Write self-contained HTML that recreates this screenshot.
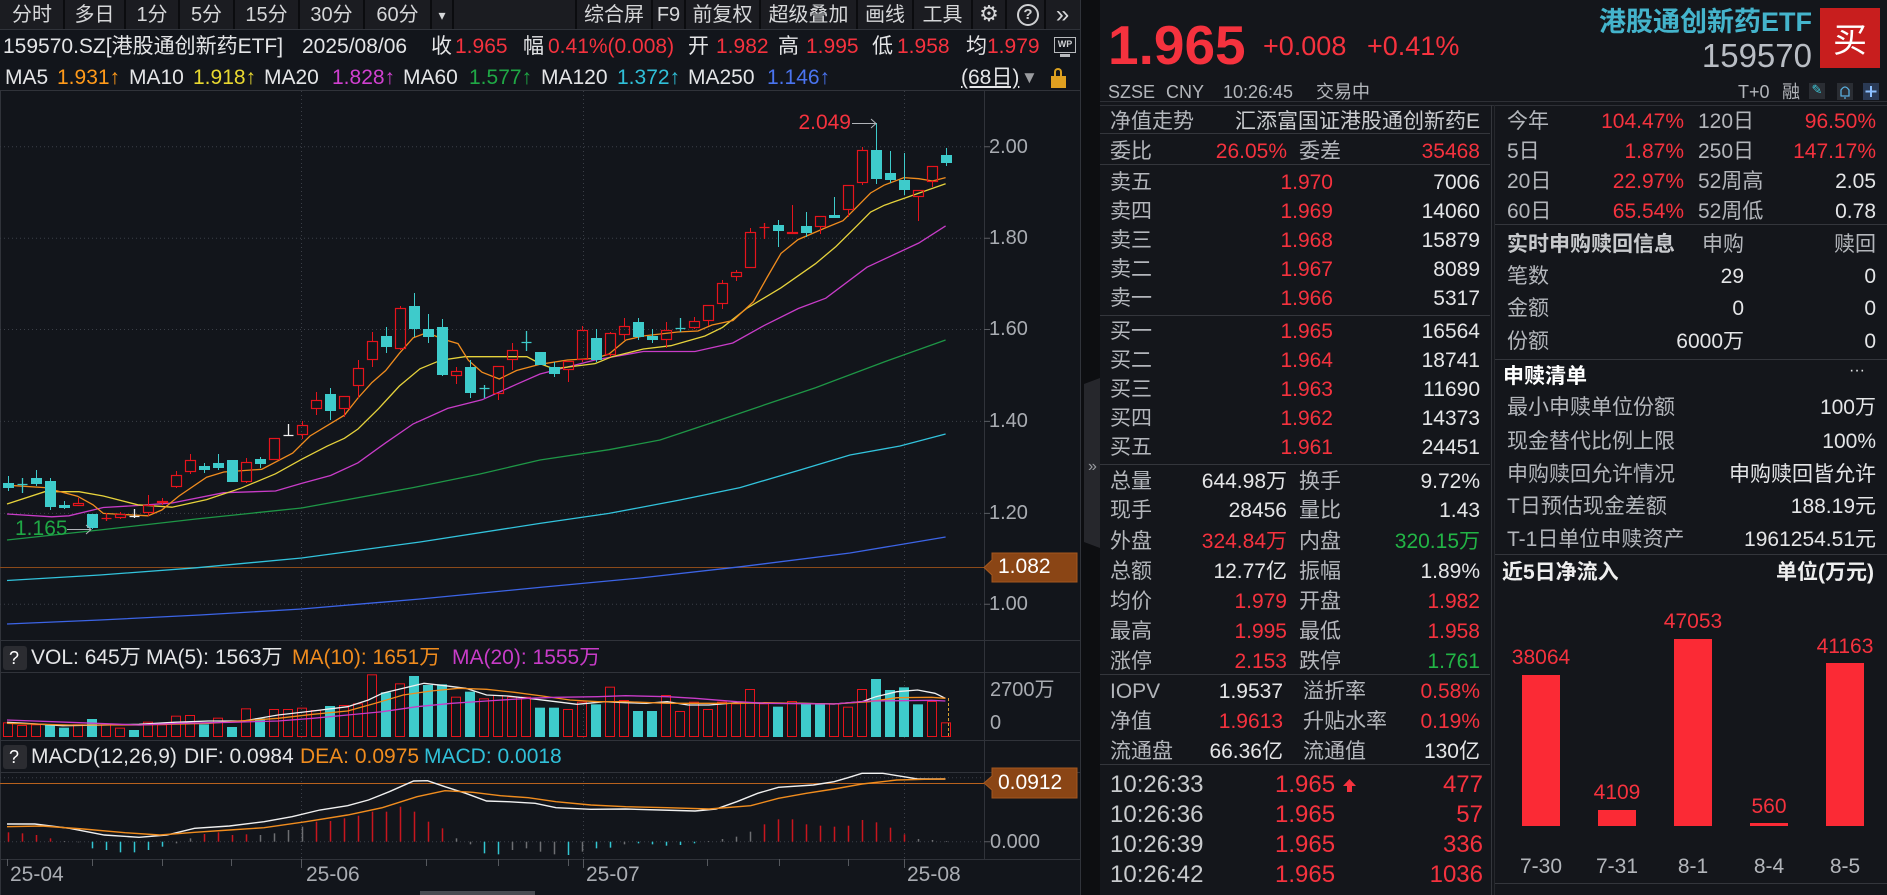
<!DOCTYPE html>
<html><head><meta charset="utf-8">
<style>
*{margin:0;padding:0;box-sizing:border-box}
body{width:1887px;height:895px;overflow:hidden;background:#14161b;font-family:"Liberation Sans","Noto Sans CJK SC",sans-serif;color:#e2e3e5;position:relative}
.t{position:absolute;white-space:nowrap;font-size:21px;line-height:24px}
.tab{position:absolute;top:2px;height:26px;line-height:26px;text-align:center;font-size:20px;color:#d6d7d9;white-space:nowrap}
.g{color:#b3b6bb}.w{color:#e4e5e7}.rd{color:#f5323e}.gn{color:#22b546}
.hl{position:absolute;height:1px;background:#34363c}
.ax{color:#a9acb2;font-size:20px}
.tk{font-size:24px;line-height:28px}
.bar{position:absolute;background:#fb2a35;width:38px}
</style></head><body>
<svg id="ch" width="1100" height="895" style="position:absolute;left:0;top:0">
<rect x="0" y="0" width="1100" height="895" fill="#12151b"/>
<rect x="0" y="0" width="1080" height="29" fill="#1b1c21"/>
<path d="M64 0V29M125 0V29M179 0V29M234 0V29M299 0V29M364 0V29M431 0V29M453 0V29M576 0V29M652 0V29M685 0V29M760 0V29M857 0V29M913 0V29M972 0V29M1006 0V29M1045 0V29" stroke="#0b0c0f" stroke-width="2"/>
<rect x="1080" y="0" width="20" height="895" fill="#0d0e11"/>
<path d="M1084 384L1100 378V548L1084 542Z" fill="#26272c"/>
<path d="M0 29.5H1080M0 90.5H1080M0 640.5H1080M0 672.5H1080M0 740.5H1080M0 772.5H1080M0 859.5H1080" stroke="#30333a"/>
<path d="M984.5 90V859M1080.5 0V895M0.5 90V895" stroke="#30333a"/>
<path d="M0 146.7H984M0 238.3H984M0 329.5H984M0 421.4H984M0 513.4H984M0 604.3H984M0 777.7H984M0 841.7H984" stroke="#3b3f47" stroke-dasharray="1 3"/>
<path d="M301.5 91V640M583.5 91V640M904.5 91V640M301.5 673V740M583.5 673V740M904.5 673V740M301.5 773V859M583.5 773V859M904.5 773V859" stroke="#3b3f47" stroke-dasharray="1 3"/>
<path d="M984 146.7H990M984 238.3H990M984 329.5H990M984 421.4H990M984 513.4H990M984 604.3H990M984 841.7H990" stroke="#5a5d63"/>
<path d="M7.5 859V866M92.5 859V866M162.5 859V866M231.5 859V866M301.5 859V868M426.5 859V866M498.5 859V866M568.5 859V866M583.5 859V868M707.5 859V866M779.5 859V866M848.5 859V866M904.5 859V868" stroke="#55585e"/>
<rect x="420" y="891" width="115" height="4" fill="#4a4c52"/>
<line x1="0" y1="567.5" x2="984" y2="567.5" stroke="#8b4a1a"/>
<line x1="0" y1="783.5" x2="984" y2="783.5" stroke="#b8621e"/>
<polyline fill="none" stroke="#3c64e6" stroke-width="1.3" points="7,624 100,620 200,615 301.6,609 420,599 540,587.4 640,578 740,566.8 850,553 904,544 945.6,537"/>
<polyline fill="none" stroke="#32c3dc" stroke-width="1.3" points="7,580.5 100,575 196,567.8 301.6,558 420,542 540,523.4 609,513.4 680,500 740,487.6 800,470 850,455 900,446 945.6,434"/>
<polyline fill="none" stroke="#1e9646" stroke-width="1.3" points="7,540 103,529.6 196,519 301.6,508 413,487.6 480,474 540,460 609,449.7 660,440 719,420.4 770,403 815.5,387.7 884,362 945.6,340"/>
<polyline fill="none" stroke="#c83cc8" stroke-width="1.3" points="7,514 51.7,516.8 68.9,515.8 103.3,507.5 137.7,505.5 172,503 223.8,492.7 275.5,491 301.6,483.4 330.6,475.5 358,462.8 385.7,442.8 413.2,423.9 447.7,408.4 482,399.8 516.5,384.3 540,374 595,360 643.3,351.5 695,351.5 732.8,343 763.8,325.7 798.3,308.5 825.8,298.2 867,267.2 918.8,243 945.6,225.9"/>
<polyline fill="none" stroke="#e6d23c" stroke-width="1.3" points="7,504 44.8,491.7 79,491.7 103.3,496 137.7,504.8 172,507.2 206.6,499.6 241,488.2 275.5,473.8 301.6,459.3 327,446.2 344.4,438.3 358,429 378.8,408.4 399.4,386 420,368.8 440.8,360.2 464.9,356.7 526.9,356.7 540,363.6 553.8,368.8 595,363.6 612,356.7 643.3,349 670.9,345.7 705,336 722.5,327.4 746.6,308.5 781,287.8 815.5,263.7 836,246.5 856.8,225.9 870.6,212 884.4,205.2 904.3,198.3 945.6,183.8"/>
<polyline fill="none" stroke="#f08c1e" stroke-width="1.3" points="7,485.2 44.8,487.6 77.5,496.2 93,504.8 103.3,513.4 148,515.8 161.8,510 179,496 206.6,477.2 223.8,472 261.7,469.3 292.7,453.1 310,436 344.4,415.2 358,398 372,382.5 385.7,370.5 399.4,353.3 413.2,337.8 427,332.6 444,339.5 458,343.6 468.3,360.2 482,372.2 499.3,379 516.5,370.5 540,364.3 567.5,360 595,358.4 609,354 626,340 643,336 677.7,332 698,331 712,325 733,320.5 753.5,301.6 767,277.5 781,253.4 798,239.6 826,227.6 843,220.7 853.4,210.4 870.6,193 884,185.2 904,177.6 918.8,178.7 932.6,181 945.6,177.6"/>
<g id="dyn"></g>
<polyline fill="none" stroke="#f0f0f0" stroke-width="1.3" points="7,722.3 41.7,724.3 62.6,725.7 104.3,725 139,724.3 173.8,722.3 208.5,721 243.3,721 278,715 312.8,711 347.6,706.7 368.4,700 382.3,693.3 403.2,688.3 424,683.3 444.9,685.7 465.7,688.3 486.6,695 507.4,696 528.3,698.3 556,701.7 577,704.3 604.8,701.7 625.6,702.7 646.5,703.3 667.3,701.7 688.2,705 709,705 736.8,702.7 764.6,703.3 799.4,703.3 834.1,704 862,701.7 875.9,696.7 896.7,691.7 917.6,690 935,693.3 945.4,698.3"/>
<polyline fill="none" stroke="#f08c1e" stroke-width="1.3" points="7,723.3 69.5,725 139,725 208.5,723.3 278,718.3 312.8,714.3 347.6,711 375.4,703.3 403.2,695 431,691 458.8,688.3 486.6,689.3 514.4,692.3 542.2,696 570,700 597.8,701.7 625.6,701.7 667.3,703.3 736.8,703.3 764.6,702.7 834.1,704 868.9,701.7 896.7,697.7 931.5,697.3 945.4,698.3"/>
<polyline fill="none" stroke="#c83cc8" stroke-width="1.3" points="7,720 69.5,722.3 139,725 180.7,723.3 229.4,722.3 278,721 312.8,718.3 347.6,715 382.3,711.7 417,706.7 451.8,703.3 486.6,701 528.3,698.3 556,697.3 597.8,696.7 625.6,695.7 667.3,696.7 695,698.3 736.8,701.7 764.6,703.3 834.1,704 868.9,701 903.6,700.7 931.5,700.3 945.4,701"/>
<line x1="948.5" y1="698" x2="948.5" y2="737" stroke="#d8a030" stroke-dasharray="3 2"/>
<polyline fill="none" stroke="#f0f0f0" stroke-width="1.4" points="7,824 34.8,824 69.5,828.3 104.3,835 139,837.3 166.8,835 194.6,828.3 229.4,826 264.1,821.7 292,816.7 319.8,810 347.6,805.7 368.4,800 389.3,791.7 413.6,781 427.5,780.7 444.9,786.7 465.7,793.3 486.6,801 507.4,801.7 535.2,803.3 556,807.7 590.9,809.3 625.6,809 660.4,810 695.1,811 716,809 736.8,801.7 757.7,793.3 778.5,787.3 813.3,785 834.1,781.7 848,777.7 862,773.3 882.8,773.3 903.6,776.7 917.6,779 945.4,779"/>
<polyline fill="none" stroke="#f08c1e" stroke-width="1.4" points="7,826.7 41.7,826 83.4,829 125.1,832.7 159.9,835 194.6,832.3 229.4,830 264.1,827.7 305.9,821.7 347.6,815 382.3,807.7 417,796.7 444.9,790.7 472.7,792.3 500.5,795.7 528.3,797.7 556,801.7 590.9,805 625.6,806.7 667.3,807.7 709,809 750.7,805.7 778.5,798.3 806.3,793.3 834.1,789 862,784 896.7,780 924.5,779.3 945.4,779"/>
<path d="M852 123.5H876M871 119L876 123.5L871 128" stroke="#b0b3b8" fill="none"/>
<path d="M67 529.5H91M86 525L91 529.5L86 534" stroke="#b0b3b8" fill="none"/>
<path d="M984 567.5L992 560V553H1077V582H992V575Z" fill="#8a4515" stroke="#a4581f"/>
<path d="M984 783L992 776V768H1077V798H992V790Z" fill="#8a4515" stroke="#a4581f"/>
<rect x="3" y="646" width="24" height="24" rx="3" fill="#2b2c31"/>
<rect x="3" y="745" width="24" height="24" rx="3" fill="#2b2c31"/>
</svg>

<!-- toolbar -->
<div class="tab" style="left:0;width:64px">分时</div>
<div class="tab" style="left:64px;width:61px">多日</div>
<div class="tab" style="left:125px;width:54px">1分</div>
<div class="tab" style="left:179px;width:55px">5分</div>
<div class="tab" style="left:234px;width:65px">15分</div>
<div class="tab" style="left:299px;width:65px">30分</div>
<div class="tab" style="left:364px;width:67px">60分</div>
<div class="tab" style="left:431px;width:22px;font-size:14px">▾</div>
<div class="tab" style="left:576px;width:76px">综合屏</div>
<div class="tab" style="left:652px;width:33px">F9</div>
<div class="tab" style="left:685px;width:75px">前复权</div>
<div class="tab" style="left:760px;width:97px">超级叠加</div>
<div class="tab" style="left:857px;width:56px">画线</div>
<div class="tab" style="left:913px;width:59px">工具</div>
<div class="tab" style="left:972px;width:34px;font-family:'DejaVu Sans',sans-serif;font-size:22px">⚙</div>
<div style="position:absolute;left:1017px;top:4px;width:22px;height:22px;border:2px solid #cfd0d2;border-radius:50%;color:#cfd0d2;font-size:15px;line-height:18px;text-align:center;font-weight:bold">?</div>
<div class="tab" style="left:1045px;width:35px;font-size:24px">»</div>

<!-- info line -->
<div class="t w" style="left:3px;top:35px">159570.SZ[港股通创新药ETF]</div>
<div class="t w" style="left:302px;top:35px">2025/08/06</div>
<div class="t w" style="left:431px;top:35px">收</div><div class="t rd" style="left:455px;top:35px">1.965</div>
<div class="t w" style="left:523px;top:35px">幅</div><div class="t rd" style="left:548px;top:35px">0.41%(0.008)</div>
<div class="t w" style="left:688px;top:35px">开</div><div class="t rd" style="left:716px;top:35px">1.982</div>
<div class="t w" style="left:778px;top:35px">高</div><div class="t rd" style="left:806px;top:35px">1.995</div>
<div class="t w" style="left:872px;top:35px">低</div><div class="t rd" style="left:897px;top:35px">1.958</div>
<div class="t w" style="left:966px;top:35px">均</div><div class="t rd" style="left:987px;top:35px">1.979</div>
<div style="position:absolute;left:1054px;top:37px;width:22px;height:16px;border:1.5px solid #b8babe;color:#d0d2d5;font-size:9px;font-weight:bold;line-height:13px;text-align:center">WP</div>
<div style="position:absolute;left:1060px;top:54px;width:10px;height:3px;background:#b8babe"></div>

<!-- MA line -->
<div class="t w" style="left:5px;top:66px">MA5</div><div class="t" style="left:57px;top:66px;color:#ff9a1a">1.931↑</div>
<div class="t w" style="left:129px;top:66px">MA10</div><div class="t" style="left:193px;top:66px;color:#e8d830">1.918↑</div>
<div class="t w" style="left:264px;top:66px">MA20</div><div class="t" style="left:332px;top:66px;color:#d040d0">1.828↑</div>
<div class="t w" style="left:403px;top:66px">MA60</div><div class="t" style="left:469px;top:66px;color:#1fa845">1.577↑</div>
<div class="t w" style="left:541px;top:66px">MA120</div><div class="t" style="left:617px;top:66px;color:#30c0d8">1.372↑</div>
<div class="t w" style="left:688px;top:66px">MA250</div><div class="t" style="left:767px;top:66px;color:#4a74f0">1.146↑</div>
<div class="t w" style="left:961px;top:66px;text-decoration:underline">(68日)</div>
<div class="t" style="left:1021px;top:66px;color:#9a9ca0;font-size:17px">▼</div>
<div style="position:absolute;left:1054px;top:68px;width:8px;height:9px;border:2px solid #d9a020;border-bottom:none;border-radius:4px 4px 0 0"></div>
<div style="position:absolute;left:1051px;top:76px;width:15px;height:12px;background:#e0a020"></div>

<!-- chart labels -->
<div class="t rd" style="right:1036px;top:111px">2.049</div>
<div class="t" style="left:15px;top:517px;color:#1fa845">1.165</div>
<div class="t ax" style="left:989px;top:135px">2.00</div>
<div class="t ax" style="left:989px;top:226px">1.80</div>
<div class="t ax" style="left:989px;top:317px">1.60</div>
<div class="t ax" style="left:989px;top:409px">1.40</div>
<div class="t ax" style="left:989px;top:501px">1.20</div>
<div class="t ax" style="left:989px;top:592px">1.00</div>
<div class="t" style="left:998px;top:555px;color:#fff">1.082</div>
<div class="t ax" style="left:990px;top:678px">2700万</div>
<div class="t ax" style="left:990px;top:711px">0</div>
<div class="t" style="left:998px;top:771px;color:#fff">0.0912</div>
<div class="t ax" style="left:990px;top:830px">0.000</div>

<div class="t" style="left:9px;top:646px;color:#fff;font-size:18px">?</div>
<div class="t w" style="left:31px;top:646px">VOL: 645万</div>
<div class="t w" style="left:146px;top:646px">MA(5): 1563万</div>
<div class="t" style="left:292px;top:646px;color:#f08c1e">MA(10): 1651万</div>
<div class="t" style="left:452px;top:646px;color:#c83cc8">MA(20): 1555万</div>

<div class="t" style="left:9px;top:745px;color:#fff;font-size:18px">?</div>
<div class="t w" style="left:31px;top:745px">MACD(12,26,9)</div>
<div class="t w" style="left:184px;top:745px">DIF: 0.0984</div>
<div class="t" style="left:300px;top:745px;color:#f08c1e">DEA: 0.0975</div>
<div class="t" style="left:424px;top:745px;color:#30c0d8">MACD: 0.0018</div>

<div class="t ax" style="left:10px;top:863px;font-size:21px">25-04</div>
<div class="t ax" style="left:306px;top:863px;font-size:21px">25-06</div>
<div class="t ax" style="left:586px;top:863px;font-size:21px">25-07</div>
<div class="t ax" style="left:907px;top:863px;font-size:21px">25-08</div>
<div class="t" style="left:1088px;top:455px;color:#9a9ca0;font-size:16px">»</div>

<!-- right header -->
<div class="t rd" style="left:1108px;top:15px;font-size:55px;line-height:60px;font-weight:bold">1.965</div>
<div class="t rd" style="left:1263px;top:31px;font-size:27px;line-height:30px">+0.008</div>
<div class="t rd" style="left:1367px;top:31px;font-size:27px;line-height:30px">+0.41%</div>
<div class="t" style="right:75px;top:6px;font-size:27px;line-height:32px;font-weight:bold;color:#44b4cc">港股通创新药ETF</div>
<div class="t" style="right:75px;top:37px;font-size:33px;line-height:38px;color:#b9bdc4">159570</div>
<div style="position:absolute;left:1820px;top:8px;width:60px;height:60px;background:#c81e1e;color:#fff;font-size:34px;line-height:60px;text-align:center;font-family:'Noto Sans CJK SC',sans-serif">买</div>
<div class="t g" style="left:1108px;top:81px;font-size:18px;line-height:22px">SZSE</div>
<div class="t g" style="left:1166px;top:81px;font-size:18px;line-height:22px">CNY</div>
<div class="t g" style="left:1223px;top:81px;font-size:18px;line-height:22px">10:26:45</div>
<div class="t g" style="left:1316px;top:81px;font-size:18px;line-height:22px">交易中</div>
<div class="t g" style="left:1738px;top:81px;font-size:18px;line-height:22px">T+0</div>
<div class="t g" style="left:1782px;top:81px;font-size:18px;line-height:22px">融</div>
<div style="position:absolute;left:1809px;top:83px;width:16px;height:16px;background:#2a2d33;color:#3ec8d8;font-size:13px;line-height:16px;text-align:center;font-family:'DejaVu Sans',sans-serif">✎</div>
<svg style="position:absolute;left:1837px;top:83px" width="16" height="17"><rect width="16" height="17" fill="#2a2d33"/><path d="M4 13V7Q8 1 12 7V13H3.5M7 15H9" stroke="#5ab0e0" fill="none" stroke-width="1.3"/></svg>
<svg style="position:absolute;left:1863px;top:83px" width="16" height="17"><rect width="16" height="17" fill="#2a3a55"/><path d="M8 3V14M2.5 8.5H13.5" stroke="#8cc0ff" stroke-width="2"/></svg>
<div class="hl" style="left:1100px;top:101px;width:787px;background:#2e3036"></div>
<div class="hl" style="left:1100px;top:105px;width:787px;background:#2e3036"></div>
<div style="position:absolute;left:1491px;top:105px;width:1px;height:790px;background:#34363c"></div>
<div style="position:absolute;left:1494px;top:105px;width:1px;height:790px;background:#26282d"></div>

<!-- middle column lines -->
<div class="hl" style="left:1100px;top:133px;width:390px"></div>
<div class="hl" style="left:1100px;top:164px;width:390px"></div>
<div class="hl" style="left:1100px;top:315px;width:390px"></div>
<div class="hl" style="left:1100px;top:464px;width:390px"></div>
<div class="hl" style="left:1100px;top:674px;width:390px"></div>
<div class="hl" style="left:1100px;top:764px;width:390px"></div>

<div class="t g" style="left:1110px;top:110px">净值走势</div>
<div class="t" style="right:407px;top:110px;color:#c9cbce">汇添富国证港股通创新药E</div>
<div class="t g" style="left:1110px;top:140px">委比</div><div class="t rd" style="right:600px;top:140px">26.05%</div>
<div class="t g" style="left:1299px;top:140px">委差</div><div class="t rd" style="right:407px;top:140px">35468</div>

<div class="t g" style="left:1110px;top:171px">卖五</div><div class="t rd" style="right:554px;top:171px">1.970</div><div class="t w" style="right:407px;top:171px">7006</div>
<div class="t g" style="left:1110px;top:200px">卖四</div><div class="t rd" style="right:554px;top:200px">1.969</div><div class="t w" style="right:407px;top:200px">14060</div>
<div class="t g" style="left:1110px;top:229px">卖三</div><div class="t rd" style="right:554px;top:229px">1.968</div><div class="t w" style="right:407px;top:229px">15879</div>
<div class="t g" style="left:1110px;top:258px">卖二</div><div class="t rd" style="right:554px;top:258px">1.967</div><div class="t w" style="right:407px;top:258px">8089</div>
<div class="t g" style="left:1110px;top:287px">卖一</div><div class="t rd" style="right:554px;top:287px">1.966</div><div class="t w" style="right:407px;top:287px">5317</div>
<div class="t g" style="left:1110px;top:320px">买一</div><div class="t rd" style="right:554px;top:320px">1.965</div><div class="t w" style="right:407px;top:320px">16564</div>
<div class="t g" style="left:1110px;top:349px">买二</div><div class="t rd" style="right:554px;top:349px">1.964</div><div class="t w" style="right:407px;top:349px">18741</div>
<div class="t g" style="left:1110px;top:378px">买三</div><div class="t rd" style="right:554px;top:378px">1.963</div><div class="t w" style="right:407px;top:378px">11690</div>
<div class="t g" style="left:1110px;top:407px">买四</div><div class="t rd" style="right:554px;top:407px">1.962</div><div class="t w" style="right:407px;top:407px">14373</div>
<div class="t g" style="left:1110px;top:436px">买五</div><div class="t rd" style="right:554px;top:436px">1.961</div><div class="t w" style="right:407px;top:436px">24451</div>

<div class="t g" style="left:1110px;top:470px">总量</div><div class="t w" style="right:600px;top:470px">644.98万</div><div class="t g" style="left:1299px;top:470px">换手</div><div class="t w" style="right:407px;top:470px">9.72%</div>
<div class="t g" style="left:1110px;top:499px">现手</div><div class="t w" style="right:600px;top:499px">28456</div><div class="t g" style="left:1299px;top:499px">量比</div><div class="t w" style="right:407px;top:499px">1.43</div>
<div class="t g" style="left:1110px;top:530px">外盘</div><div class="t rd" style="right:600px;top:530px">324.84万</div><div class="t g" style="left:1299px;top:530px">内盘</div><div class="t gn" style="right:407px;top:530px">320.15万</div>
<div class="t g" style="left:1110px;top:560px">总额</div><div class="t w" style="right:600px;top:560px">12.77亿</div><div class="t g" style="left:1299px;top:560px">振幅</div><div class="t w" style="right:407px;top:560px">1.89%</div>
<div class="t g" style="left:1110px;top:590px">均价</div><div class="t rd" style="right:600px;top:590px">1.979</div><div class="t g" style="left:1299px;top:590px">开盘</div><div class="t rd" style="right:407px;top:590px">1.982</div>
<div class="t g" style="left:1110px;top:620px">最高</div><div class="t rd" style="right:600px;top:620px">1.995</div><div class="t g" style="left:1299px;top:620px">最低</div><div class="t rd" style="right:407px;top:620px">1.958</div>
<div class="t g" style="left:1110px;top:650px">涨停</div><div class="t rd" style="right:600px;top:650px">2.153</div><div class="t g" style="left:1299px;top:650px">跌停</div><div class="t gn" style="right:407px;top:650px">1.761</div>

<div class="t g" style="left:1110px;top:680px">IOPV</div><div class="t w" style="right:604px;top:680px">1.9537</div><div class="t g" style="left:1303px;top:680px">溢折率</div><div class="t rd" style="right:407px;top:680px">0.58%</div>
<div class="t g" style="left:1110px;top:710px">净值</div><div class="t rd" style="right:604px;top:710px">1.9613</div><div class="t g" style="left:1303px;top:710px">升贴水率</div><div class="t rd" style="right:407px;top:710px">0.19%</div>
<div class="t g" style="left:1110px;top:740px">流通盘</div><div class="t w" style="right:604px;top:740px">66.36亿</div><div class="t g" style="left:1303px;top:740px">流通值</div><div class="t w" style="right:407px;top:740px">130亿</div>

<div class="t tk" style="left:1110px;top:771px;color:#c8cacd">10:26:33</div><div class="t tk rd" style="left:1275px;top:771px">1.965</div><div class="t tk rd" style="right:404px;top:771px">477</div>
<svg style="position:absolute;left:1342px;top:778px" width="15" height="15"><path d="M7.5 1L14 8H10V14H5V8H1Z" fill="#f5323e"/></svg>
<div class="t tk" style="left:1110px;top:801px;color:#c8cacd">10:26:36</div><div class="t tk rd" style="left:1275px;top:801px">1.965</div><div class="t tk rd" style="right:404px;top:801px">57</div>
<div class="t tk" style="left:1110px;top:831px;color:#c8cacd">10:26:39</div><div class="t tk rd" style="left:1275px;top:831px">1.965</div><div class="t tk rd" style="right:404px;top:831px">336</div>
<div class="t tk" style="left:1110px;top:861px;color:#c8cacd">10:26:42</div><div class="t tk rd" style="left:1275px;top:861px">1.965</div><div class="t tk rd" style="right:404px;top:861px">1036</div>

<!-- right column -->
<div class="hl" style="left:1495px;top:224px;width:392px"></div>
<div class="hl" style="left:1495px;top:359px;width:392px"></div>
<div class="hl" style="left:1495px;top:554px;width:392px"></div>
<div class="hl" style="left:1495px;top:883px;width:392px"></div>

<div class="t g" style="left:1507px;top:110px">今年</div><div class="t rd" style="right:203px;top:110px">104.47%</div><div class="t g" style="left:1698px;top:110px">120日</div><div class="t rd" style="right:11px;top:110px">96.50%</div>
<div class="t g" style="left:1507px;top:140px">5日</div><div class="t rd" style="right:203px;top:140px">1.87%</div><div class="t g" style="left:1698px;top:140px">250日</div><div class="t rd" style="right:11px;top:140px">147.17%</div>
<div class="t g" style="left:1507px;top:170px">20日</div><div class="t rd" style="right:203px;top:170px">22.97%</div><div class="t g" style="left:1698px;top:170px">52周高</div><div class="t w" style="right:11px;top:170px">2.05</div>
<div class="t g" style="left:1507px;top:200px">60日</div><div class="t rd" style="right:203px;top:200px">65.54%</div><div class="t g" style="left:1698px;top:200px">52周低</div><div class="t w" style="right:11px;top:200px">0.78</div>

<div class="t" style="left:1507px;top:233px;color:#c8cacd;font-weight:bold">实时申购赎回信息</div><div class="t g" style="right:143px;top:233px">申购</div><div class="t g" style="right:11px;top:233px">赎回</div>
<div class="t g" style="left:1507px;top:265px">笔数</div><div class="t w" style="right:143px;top:265px">29</div><div class="t w" style="right:11px;top:265px">0</div>
<div class="t g" style="left:1507px;top:297px">金额</div><div class="t w" style="right:143px;top:297px">0</div><div class="t w" style="right:11px;top:297px">0</div>
<div class="t g" style="left:1507px;top:330px">份额</div><div class="t w" style="right:143px;top:330px">6000万</div><div class="t w" style="right:11px;top:330px">0</div>

<div class="t" style="left:1503px;top:365px;color:#fff;font-weight:bold">申赎清单</div><div class="t w" style="left:1849px;top:359px;font-size:16px">···</div>
<div class="t g" style="left:1507px;top:396px">最小申赎单位份额</div><div class="t w" style="right:11px;top:396px">100万</div>
<div class="t g" style="left:1507px;top:430px">现金替代比例上限</div><div class="t w" style="right:11px;top:430px">100%</div>
<div class="t g" style="left:1507px;top:463px">申购赎回允许情况</div><div class="t w" style="right:11px;top:463px">申购赎回皆允许</div>
<div class="t g" style="left:1507px;top:495px">T日预估现金差额</div><div class="t w" style="right:11px;top:495px">188.19元</div>
<div class="t g" style="left:1507px;top:528px">T-1日单位申赎资产</div><div class="t w" style="right:11px;top:528px">1961254.51元</div>

<div class="t" style="left:1502px;top:561px;color:#eee;font-weight:bold">近5日净流入</div>
<div class="t" style="right:13px;top:561px;color:#eee;font-weight:bold">单位(万元)</div>

<div class="bar" style="left:1522px;top:675px;height:151px"></div>
<div class="bar" style="left:1598px;top:810px;height:16px"></div>
<div class="bar" style="left:1674px;top:639px;height:187px"></div>
<div class="bar" style="left:1750px;top:823px;height:3px"></div>
<div class="bar" style="left:1826px;top:663px;height:163px"></div>
<div class="t rd" style="left:1491px;width:100px;text-align:center;top:646px">38064</div>
<div class="t rd" style="left:1567px;width:100px;text-align:center;top:781px">4109</div>
<div class="t rd" style="left:1643px;width:100px;text-align:center;top:610px">47053</div>
<div class="t rd" style="left:1719px;width:100px;text-align:center;top:795px">560</div>
<div class="t rd" style="left:1795px;width:100px;text-align:center;top:635px">41163</div>
<div class="t g" style="left:1491px;width:100px;text-align:center;top:855px">7-30</div>
<div class="t g" style="left:1567px;width:100px;text-align:center;top:855px">7-31</div>
<div class="t g" style="left:1643px;width:100px;text-align:center;top:855px">8-1</div>
<div class="t g" style="left:1719px;width:100px;text-align:center;top:855px">8-4</div>
<div class="t g" style="left:1795px;width:100px;text-align:center;top:855px">8-5</div>

<script>
const C=[['c',483,488,476,491],['c',484,485,478,493],['c',478,484,470,486],['c',481,507,478,510],['c',505,508,501,509],['r',503,506,498,506],['c',514,528,514,529],['r',518,519,513,521],['r',514,518,512,519],['w',516,516,509,518],['r',505,513,495,516],['r',501,503,498,505],['r',475,487,471,488],['r',460,472,454,474],['c',466,470,463,473],['c',463,468,454,470],['c',460,482,460,482],['r',462,482,458,483],['c',459,464,457,468],['r',438,460,438,460],['w',435,435,424,436],['r',425,435,421,439],['r',400,409,392,415],['c',394,411,388,420],['r',396,409,396,417],['r',368,386,360,398],['r',341,360,332,367],['c',336,347,327,353],['r',308,349,306,350],['c',306,329,293,337],['c',329,337,314,343],['c',327,375,319,376],['r',371,376,367,384],['c',367,393,360,398],['c',388,389,385,398],['r',366,394,366,400],['r',350,360,343,370],['c',342,343,331,351],['c',352,365,352,365],['c',367,374,362,377],['r',361,370,361,382],['r',330,360,326,362],['c',338,360,329,362],['r',333,355,332,357],['r',326,335,318,340],['c',322,337,318,340],['c',336,340,329,343],['r',330,340,322,348],['c',328,329,318,332],['r',321,328,317,329],['r',305,321,305,326],['r',283,304,280,309],['r',272,277,270,281],['r',232,268,228,268],['r',227,228,223,239],['c',225,231,220,247],['r',232,234,205,234],['c',226,233,212,237],['r',216,227,216,234],['c',215,218,197,218],['r',185,210,185,217],['r',150,183,147,185],['c',150,179,123,184],['c',173,180,151,183],['c',180,190,153,195],['r',190,197,190,221],['r',166,182,166,187],['c',155,163,148,166]];
const V=[['r',262],['r',270],['r',268],['c',268],['c',278],['r',268],['c',252],['r',268],['r',278],['c',285],['r',260],['r',268],['r',242],['r',240],['c',268],['r',248],['c',276],['r',220],['c',250],['r',222],['r',222],['r',218],['r',225],['c',213],['r',210],['r',205],['r',118],['c',172],['r',145],['c',123],['c',150],['c',148],['r',185],['c',170],['r',190],['r',180],['r',185],['r',185],['c',218],['c',218],['r',222],['r',200],['c',208],['r',155],['r',195],['c',228],['c',228],['r',180],['r',228],['r',200],['r',222],['r',200],['r',205],['r',162],['r',205],['c',215],['r',198],['c',205],['c',208],['r',205],['r',215],['r',162],['c',132],['c',165],['c',157],['c',208],['r',198],['r',262]];
const M=[[592,'r'],[595,'r'],[600,'r'],[610,'r'],[618,'g'],[622,'g'],[640,'c'],[645,'c'],[652,'c'],[652,'c'],[645,'c'],[635,'c'],[625,'g'],[610,'g'],[597,'r'],[592,'r'],[600,'r'],[598,'r'],[600,'g'],[595,'g'],[585,'g'],[575,'g'],[560,'r'],[558,'r'],[550,'r'],[542,'r'],[530,'r'],[530,'r'],[515,'r'],[530,'r'],[560,'r'],[580,'r'],[610,'g'],[628,'g'],[655,'c'],[658,'c'],[645,'g'],[640,'g'],[650,'g'],[658,'g'],[660,'c'],[650,'g'],[640,'c'],[638,'c'],[628,'g'],[625,'c'],[628,'c'],[632,'c'],[630,'c'],[625,'c'],[618,'g'],[612,'g'],[605,'g'],[590,'g'],[568,'r'],[553,'r'],[553,'r'],[568,'r'],[572,'r'],[575,'r'],[572,'r'],[555,'r'],[562,'r'],[578,'r'],[598,'r'],[612,'g'],[615,'g'],[618,'g']];
const RED='#e5141c',CY='#3ecbcb';
const X=i=>7.6+14*i;
let s='';
C.forEach((d,i)=>{const x=Math.round(X(i))+0.5;const t=d[0],bt=d[1],bb=d[2],wt=d[3],wb=d[4];const col=t=='c'?CY:(t=='w'?'#f0f0f0':RED);
 if(bb-bt<=1.5){s+='<path d="M'+x+' '+wt+'V'+wb+'M'+(x-5)+' '+(bt+0.5)+'H'+(x+5)+'" stroke="'+col+'" stroke-width="1.3" fill="none"/>';}
 else if(t=='c'){s+='<path d="M'+x+' '+wt+'V'+wb+'" stroke="'+col+'"/><rect x="'+(x-5.5)+'" y="'+bt+'" width="11" height="'+(bb-bt)+'" fill="'+col+'"/>';}
 else{s+='<path d="M'+x+' '+wt+'V'+bt+'M'+x+' '+bb+'V'+wb+'" stroke="'+col+'"/><rect x="'+(x-5)+'" y="'+(bt+0.5)+'" width="10" height="'+(bb-bt-1)+'" fill="none" stroke="'+col+'" stroke-width="1.2"/>';}
});
V.forEach((d,i)=>{const x=Math.round(X(i));const top=635+d[1]/3;const h=737-top;
 if(d[0]=='c')s+='<rect x="'+(x-5)+'" y="'+top+'" width="10" height="'+h+'" fill="'+CY+'"/>';
 else s+='<rect x="'+(x-4.5)+'" y="'+(top+0.5)+'" width="9" height="'+(h-1)+'" fill="none" stroke="'+RED+'"/>';});
M.forEach((d,i)=>{const x=Math.round(X(i))+0.5;const y=635+d[0]/3;const col=d[1]=='r'?'#c8161e':(d[1]=='c'?'#32c6d2':'#6d6e72');
 s+='<path d="M'+x+' 841.7V'+y+'" stroke="'+col+'" stroke-width="1.5"/>';});
document.getElementById('dyn').innerHTML=s;
</script>
</body></html>
